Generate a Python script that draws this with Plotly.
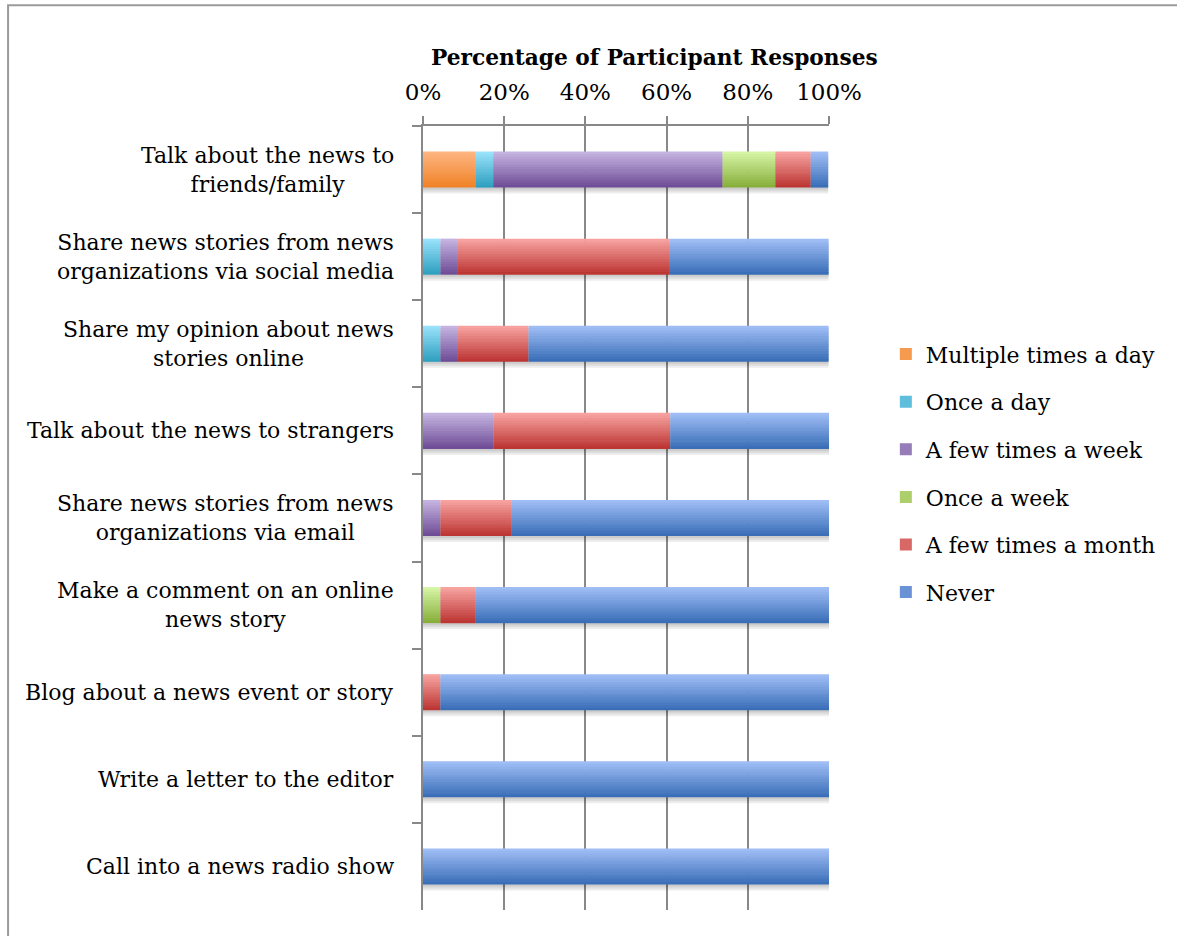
import plotly.graph_objects as go

categories = [
    "Talk about the news to<br>friends/family",
    "Share news stories from news<br>organizations via social media",
    "Share my opinion about news<br>stories online",
    "Talk about the news to strangers",
    "Share news stories from news<br>organizations via email",
    "Make a comment on an online<br>news story",
    "Blog about a news event or story",
    "Write a letter to the editor",
    "Call into a news radio show",
]

series_names = ["Multiple times a day", "Once a day", "A few times a week",
                "Once a week", "A few times a month", "Never"]

multiple_day = [13.0, 0, 0, 0, 0, 0, 0, 0, 0]
once_day = [4.3, 4.3, 4.3, 0, 0, 0, 0, 0, 0]
few_week = [56.5, 4.3, 4.3, 17.4, 4.3, 0, 0, 0, 0]
once_week = [13.0, 0, 0, 0, 0, 4.3, 0, 0, 0]
few_month = [8.7, 52.2, 17.4, 43.5, 17.4, 8.7, 4.3, 0, 0]
never = [4.3, 39.1, 73.9, 39.1, 78.3, 87.0, 95.7, 100.0, 100.0]

series_values = [multiple_day, once_day, few_week, once_week, few_month, never]

top_colors = ["#FDB47F", "#98E1FA", "#C4B3E0", "#D5F4A4", "#F7A29F", "#9FBDF5"]
bottom_colors = ["#F08328", "#2FA0C0", "#6F4D97", "#88AF3C", "#BC3634", "#3A6FB8"]

FONT = "DejaVu Serif"
BAR_W = 0.414
N_BANDS = 14


def hex2rgb(h):
    h = h.lstrip("#")
    return tuple(int(h[i:i + 2], 16) for i in (0, 2, 4))


def mix(c1, c2, t):
    a, b = hex2rgb(c1), hex2rgb(c2)
    return "rgb(%d,%d,%d)" % tuple(round(a[k] + (b[k] - a[k]) * t) for k in range(3))


fig = go.Figure()

# soft shadow under each bar (from totals)
totals = [sum(s[i] for s in series_values) for i in range(len(categories))]
px_unit = 1.0 / 87.0
for d in (2, 4, 6):
    fig.add_trace(go.Bar(
        y=categories, x=totals, base=[0] * len(categories), orientation="h",
        width=BAR_W, offset=-BAR_W / 2 + d * px_unit,
        marker=dict(color="rgba(0,0,0,0.07)", line=dict(width=0)),
        showlegend=False, hoverinfo="skip"))

# gradient bars built from stacked bands
for si, (name, vals) in enumerate(zip(series_names, series_values)):
    bases = [sum(series_values[k][i] for k in range(si)) for i in range(len(categories))]
    band = BAR_W / N_BANDS
    for b in range(N_BANDS):
        t = b / (N_BANDS - 1)
        w = band * (1.25 if b < N_BANDS - 1 else 1.0)
        fig.add_trace(go.Bar(
            y=categories, x=vals, base=bases, orientation="h",
            width=w, offset=-BAR_W / 2 + b * band,
            marker=dict(color=mix(top_colors[si], bottom_colors[si], t), line=dict(width=0)),
            name=name, legendgroup=name,
            showlegend=(b == N_BANDS // 2),
            hovertemplate="%{y}: %{x:.1f}%<extra>" + name + "</extra>"))

# category labels, centered multi-line
for c in categories:
    fig.add_annotation(x=-0.066, xref="paper", y=c, yref="y", text=c,
                       showarrow=False, xanchor="right", yanchor="middle", align="center",
                       font=dict(family=FONT, size=22, color="#000000"))

fig.add_annotation(x=0.57, xref="paper", y=1.088, yref="paper",
                   text="<b>Percentage of Participant Responses</b>", showarrow=False,
                   xanchor="center", yanchor="middle",
                   font=dict(family=FONT, size=21.7, color="#000000"))

# outer frame
fig.add_shape(type="rect", xref="paper", yref="paper", x0=-1.022, x1=1.9, y0=-0.5, y1=1.154,
              line=dict(color="#9a9a9a", width=2), fillcolor="rgba(0,0,0,0)", layer="below")

fig.update_layout(
    width=1177, height=936,
    margin=dict(l=423, r=348, t=126, b=26),
    paper_bgcolor="white", plot_bgcolor="white",
    barmode="overlay",
    font=dict(family=FONT, size=22, color="#000000"),
    xaxis=dict(side="top", range=[0, 100], tickvals=[0, 20, 40, 60, 80, 100],
               ticktext=["0%", "20%", "40%", "60%", "80%", "100%"],
               showgrid=True, gridcolor="#888888", gridwidth=1.5,
               showline=True, linecolor="#888888", linewidth=1.5,
               ticks="outside", ticklen=8, tickcolor="#888888", tickwidth=1.5,
               ticklabelstandoff=7,
               zeroline=False, tickfont=dict(family=FONT, size=23)),
    yaxis=dict(categoryorder="array", categoryarray=categories, autorange="reversed",
               showticklabels=False, showline=True, linecolor="#888888", linewidth=1.5,
               ticks="outside", ticklen=9, tickcolor="#888888", tickwidth=1.5,
               tickson="boundaries", showgrid=False, zeroline=False),
    legend=dict(x=1.14, y=0.557, xanchor="left", yanchor="middle",
                font=dict(family=FONT, size=22), tracegroupgap=16,
                itemwidth=30, bgcolor="rgba(0,0,0,0)", traceorder="grouped"),
)

fig.write_html("out.html", config={"displayModeBar": False},
               post_script="document.body.style.margin='0';document.body.style.padding='0';")
